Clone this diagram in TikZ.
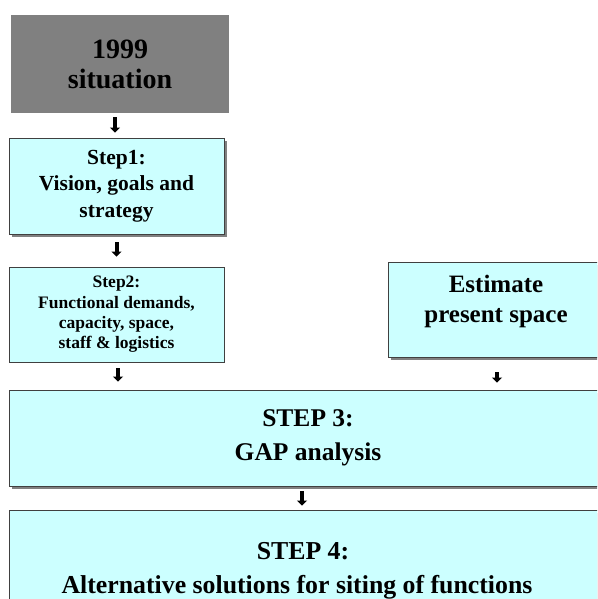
\documentclass[tikz,border=0pt]{standalone}
\usepackage{fontspec}
\setmainfont{Liberation Serif}
\usetikzlibrary{arrows.meta,shadows}

\definecolor{stepfill}{RGB}{204,255,255}
\definecolor{startfill}{RGB}{128,128,128}
\tikzset{
  stepbox/.style={draw=black!75, line width=0.8pt, fill=stepfill, align=center, inner sep=0pt},
  shade/.style={drop shadow={shadow xshift=3pt, shadow yshift=-3pt, fill=startfill, opacity=1}},
  flow/.style={line width=4pt, -{Triangle[width=10pt,length=5pt]}},
}

\begin{document}
\begin{tikzpicture}[x=1pt,y=-1pt]
  \useasboundingbox (0,0) rectangle (597,599);
  \clip (0,0) rectangle (597,599);
  % Starting point
  \node[fill=startfill, minimum width=218pt, minimum height=98pt, align=center,
        font=\bfseries\fontsize{28}{30}\selectfont] (sit) at (120,64) {1999\\situation};
  % Step 1
  \node[stepbox, shade, minimum width=215pt, minimum height=96pt,
        font=\bfseries\fontsize{21.5}{26.5}\selectfont] (step1) at (116.5,186)
        {Step1:\\Vision, goals and\\strategy};
  % Step 2
  \node[stepbox, minimum width=215pt, minimum height=95pt,
        font=\bfseries\fontsize{17.5}{20.3}\selectfont] (step2) at (116.5,314.5)
        {Step2:\\Functional demands,\\capacity, space,\\staff \& logistics};
  % Present space
  \node[stepbox, shade, minimum width=216pt, minimum height=95pt,
        font=\bfseries\fontsize{25}{30}\selectfont] (est) at (496,309.5)
        {Estimate\\present space\rule[-22pt]{0pt}{0pt}};
  % Step 3
  \node[stepbox, shade, minimum width=598pt, minimum height=96pt,
        font=\bfseries\fontsize{25.5}{34}\selectfont] (step3) at (308,438)
        {STEP 3:\\GAP analysis};
  % Step 4
  \node[stepbox, shade, minimum width=598pt, minimum height=122pt,
        font=\bfseries\fontsize{25.8}{34}\selectfont] (step4) at (308,571)
        {STEP 4:\kern10pt\\Alternative solutions for siting of functions\kern22pt};
  % Arrows
  \draw[flow, shorten <=4pt, shorten >=5pt] ([xshift=-5pt]sit.south) -- ([xshift=-5pt]sit.south |- step1.north);
  \draw[flow, shorten <=8pt, shorten >=10pt] (step1.south) -- (step2.north);
  \draw[flow, shorten <=6pt, shorten >=8pt] ([xshift=1.5pt]step2.south) -- ([xshift=1.5pt]step2.south |- step3.north);
  \draw[flow, shorten <=15pt, shorten >=7pt] ([xshift=1pt]est.south) -- ([xshift=1pt]est.south |- step3.north);
  \draw[flow, shorten <=5pt, shorten >=4pt] ([xshift=-6pt]step3.south) -- ([xshift=-6pt]step3.south |- step4.north);
\end{tikzpicture}
\end{document}
